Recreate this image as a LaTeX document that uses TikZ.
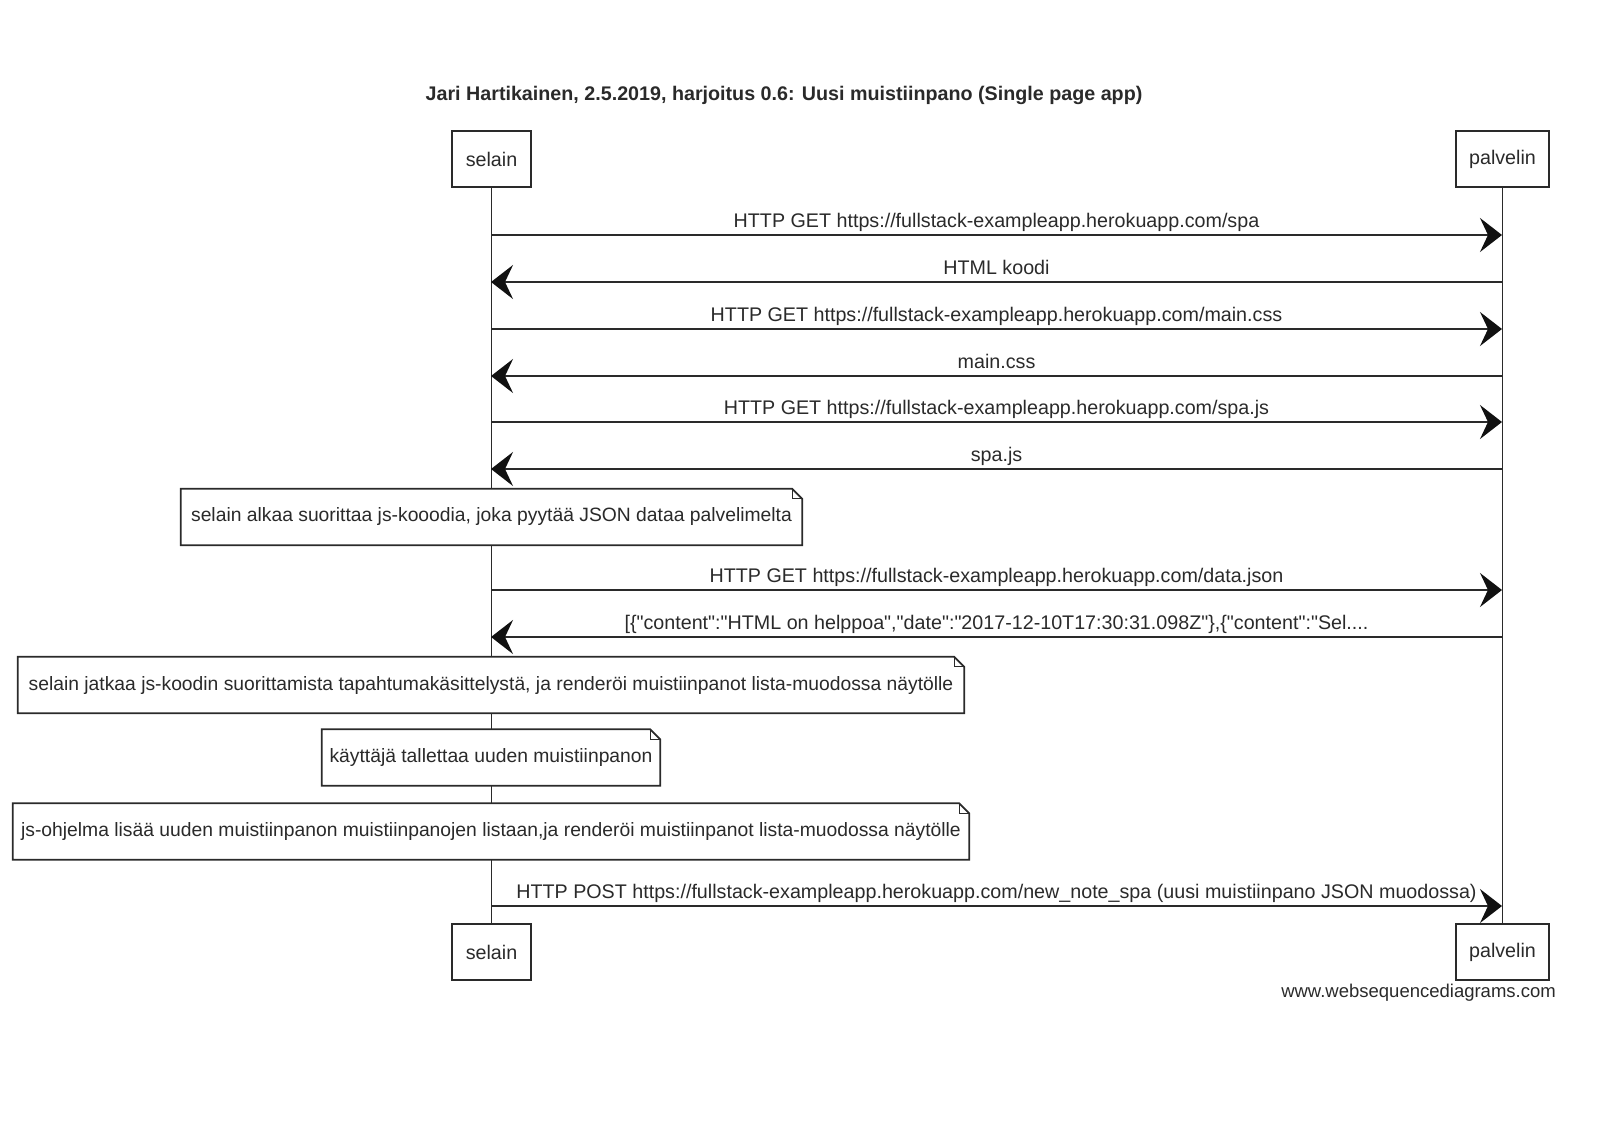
\documentclass[tikz,border=0pt]{standalone}
\usepackage{fontspec}
\newfontfamily\wsd{Liberation Sans}
\usetikzlibrary{arrows.meta}
\definecolor{ink}{HTML}{2A2A2A}
\definecolor{tip}{HTML}{111111}
\pgfdeclarelayer{back}
\pgfdeclarelayer{mid}
\pgfsetlayers{back,mid,main}
\begin{document}
\begin{tikzpicture}[x=1pt,y=-1pt,
  every node/.style={text=ink, font=\wsd\fontsize{19.7}{22}\selectfont, inner sep=0pt},
  actor/.style={draw=ink, line width=1.8pt, fill=white, minimum height=56pt},
  msg/.style={draw=ink, line width=2pt, -{Stealth[length=22pt,width=34pt,inset=8pt,fill=tip,color=tip]}},
  lifeline/.style={draw=ink, line width=1.4pt},
  lbl/.style={pos=0.5, anchor=base, yshift=8pt},
  notetext/.style={minimum height=56pt, font=\wsd\fontsize{19.3}{22}\selectfont},
  notebox/.style={draw=ink, line width=1.8pt, fill=white}
]
\useasboundingbox (0,0) rectangle (1610,1120);

% title
\node[font=\wsd\bfseries\fontsize{19.7}{22}\selectfont, anchor=base] (title) at (784,100) {Jari Hartikainen, 2.5.2019, harjoitus 0.6: Uusi muistiinpano (Single page app)};

% actors
\node[actor, minimum width=79pt] (selainTop) at (491.5,159) {selain};
\node[actor, minimum width=93pt] (palvelinTop) at (1502.5,159) {palvelin};
\node[actor, minimum width=79pt] (selainBot) at (491.5,952) {selain};
\node[actor, minimum width=93pt] (palvelinBot) at (1502.5,952) {palvelin};

\begin{pgfonlayer}{back}
\draw[lifeline] (selainTop.south) -- (selainBot.north);
\draw[lifeline] (palvelinTop.south) -- (palvelinBot.north);
\end{pgfonlayer}

% message anchor points on lifelines
\foreach \n/\y in {1/235,2/282,3/329,4/376,5/422,6/469,7/590,8/637,9/906}{
  \coordinate (s\n) at (491,\y);
  \coordinate (p\n) at (1502,\y);
}

\draw[msg] (s1) -- node[lbl] (m1) {HTTP GET https://fullstack-exampleapp.herokuapp.com/spa} (p1);
\draw[msg] (p2) -- node[lbl] (m2) {HTML koodi} (s2);
\draw[msg] (s3) -- node[lbl] (m3) {HTTP GET https://fullstack-exampleapp.herokuapp.com/main.css} (p3);
\draw[msg] (p4) -- node[lbl] (m4) {main.css} (s4);
\draw[msg] (s5) -- node[lbl] (m5) {HTTP GET https://fullstack-exampleapp.herokuapp.com/spa.js} (p5);
\draw[msg] (p6) -- node[lbl] (m6) {spa.js} (s6);
\draw[msg] (s7) -- node[lbl] (m7) {HTTP GET https://fullstack-exampleapp.herokuapp.com/data.json} (p7);
\draw[msg] (p8) -- node[lbl] (m8) {[\{"content":"HTML on helppoa","date":"2017-12-10T17:30:31.098Z"\},\{"content":"Sel....} (s8);
\draw[msg] (s9) -- node[lbl] (m9) {HTTP POST https://fullstack-exampleapp.herokuapp.com/new\_note\_spa (uusi muistiinpano JSON muodossa)} (p9);

% notes
\node[notetext, minimum width=621pt] (n1) at (491.5,517) {selain alkaa suorittaa js-kooodia, joka pyytää JSON dataa palvelimelta};
\node[notetext, minimum width=946pt] (n2) at (491,685) {selain jatkaa js-koodin suorittamista tapahtumakäsittelystä, ja renderöi muistiinpanot lista-muodossa näytölle};
\node[notetext, minimum width=338pt] (n3) at (491,757.5) {käyttäjä tallettaa uuden muistiinpanon};
\node[notetext, minimum width=956pt] (n4) at (491,831.5) {js-ohjelma lisää uuden muistiinpanon muistiinpanojen listaan,ja renderöi muistiinpanot lista-muodossa näytölle};

\begin{pgfonlayer}{mid}
\foreach \nn in {n1,n2,n3,n4}{
  \draw[notebox] (\nn.north west) -- ([xshift=-10pt]\nn.north east) -- ([yshift=-10pt]\nn.north east) -- (\nn.south east) -- (\nn.south west) -- cycle;
  \draw[ink, line width=1pt] ([xshift=-10pt]\nn.north east) -- ([xshift=-10pt,yshift=-10pt]\nn.north east) -- ([yshift=-10pt]\nn.north east);
}
\end{pgfonlayer}

% footer
\node[font=\wsd\fontsize{18.5}{22}\selectfont, anchor=base east] (footer) at (1556,997) {www.websequencediagrams.com};
\end{tikzpicture}
\end{document}
